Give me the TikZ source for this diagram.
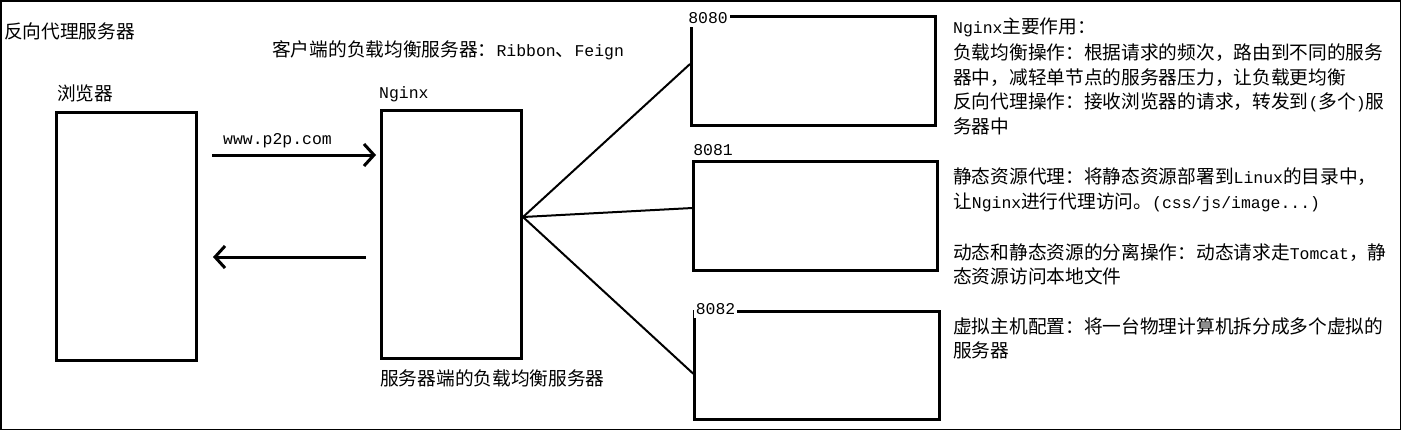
\documentclass[tikz,border=0pt]{standalone}
\usepackage{fontspec}
\setmainfont{Noto Sans CJK SC}
\newfontfamily\latmono[Scale=0.88]{Liberation Mono}
\newcommand\LT[1]{{\latmono #1}}
\usetikzlibrary{arrows.meta}
\begin{document}
\begin{tikzpicture}[x=1pt,y=-1pt,
  txt/.style={anchor=base west, inner sep=0pt, font=\fontsize{18.7}{25}\selectfont},
  box/.style={draw, line width=3pt, inner sep=0pt},
  conn/.style={line width=2pt},
  arr/.style={line width=3pt, -{Straight Barb[length=10pt,width=22pt,line width=3pt]}},
  lab/.style={fill=white, inner xsep=2pt, inner ysep=3pt, font=\fontsize{18.7}{20}\selectfont\latmono}]
\useasboundingbox (0,0) rectangle (1402,431);
\draw[line width=1.5pt] (0.75,0.75) rectangle (1400.5,429.5);

% boxes
\node[box, minimum width=140pt, minimum height=248pt] (browser) at (126.5,236.5) {};
\node[box, minimum width=140pt, minimum height=248pt] (nginx) at (451.5,234.5) {};
\node[box, minimum width=244pt, minimum height=109pt] (s1) at (813.5,71) {};
\node[box, minimum width=243.5pt, minimum height=108.5pt] (s2) at (815.7,216) {};
\node[box, minimum width=244.5pt, minimum height=108.5pt] (s3) at (817,365.7) {};

% port labels
\node[lab] (p1) at (708,18) {8080};
\node[lab] (p2) at (713,150) {8081};
\node[lab] (p3) at (715.5,309) {8082};

% arrows
\draw[arr] ([xshift=14pt,yshift=81.5pt]browser.east) -- ([xshift=-4pt,yshift=79.5pt]nginx.west);
\draw[arr] ([xshift=-14pt,yshift=-22.5pt]nginx.west) -- ([xshift=15pt,yshift=-20.5pt]browser.east);

% connectors
\coordinate (hub) at ([yshift=17.5pt]nginx.east);
\draw[conn] (hub) -- ([yshift=7pt]s1.west);
\draw[conn] (hub) -- ([yshift=8pt]s2.west);
\draw[conn] (hub) -- ([yshift=-8pt]s3.west);

% texts
\node[txt] (title) at (4,38) {反向代理服务器};
\node[txt] (client) at (272,56) {客户端的负载均衡服务器：\LT{Ribbon}、\LT{Feign}};
\node[txt] (blab) at (57,100) {浏览器};
\node[txt] (nlab) at (379,98) {\LT{Nginx}};
\node[txt] (url) at (223,144.5) {\LT{www.p2p.com}};
\node[txt] (slb) at (380,385.5) {服务器端的负载均衡服务器};

\node[txt] (t1) at (953,33) {\LT{Nginx}主要作用：};
\node[txt] (t2) at (953,59.5) {负载均衡操作：根据请求的频次，路由到不同的服务};
\node[txt] (t3) at (953,84) {器中，减轻单节点的服务器压力，让负载更均衡};
\node[txt] (t4) at (953,108) {反向代理操作：接收浏览器的请求，转发到\LT{(}多个\LT{)}服};
\node[txt] (t5) at (953,133) {务器中};
\node[txt] (t6) at (953,183.5) {静态资源代理：将静态资源部署到\LT{Linux}的目录中，};
\node[txt] (t7) at (953,208.5) {让\LT{Nginx}进行代理访问。\LT{(css/js/image...)}};
\node[txt] (t8) at (953,259) {动态和静态资源的分离操作：动态请求走\LT{Tomcat}，静};
\node[txt] (t9) at (953,283.5) {态资源访问本地文件};
\node[txt] (t10) at (953,333.5) {虚拟主机配置：将一台物理计算机拆分成多个虚拟的};
\node[txt] (t11) at (953,357.5) {服务器};
\end{tikzpicture}
\end{document}
